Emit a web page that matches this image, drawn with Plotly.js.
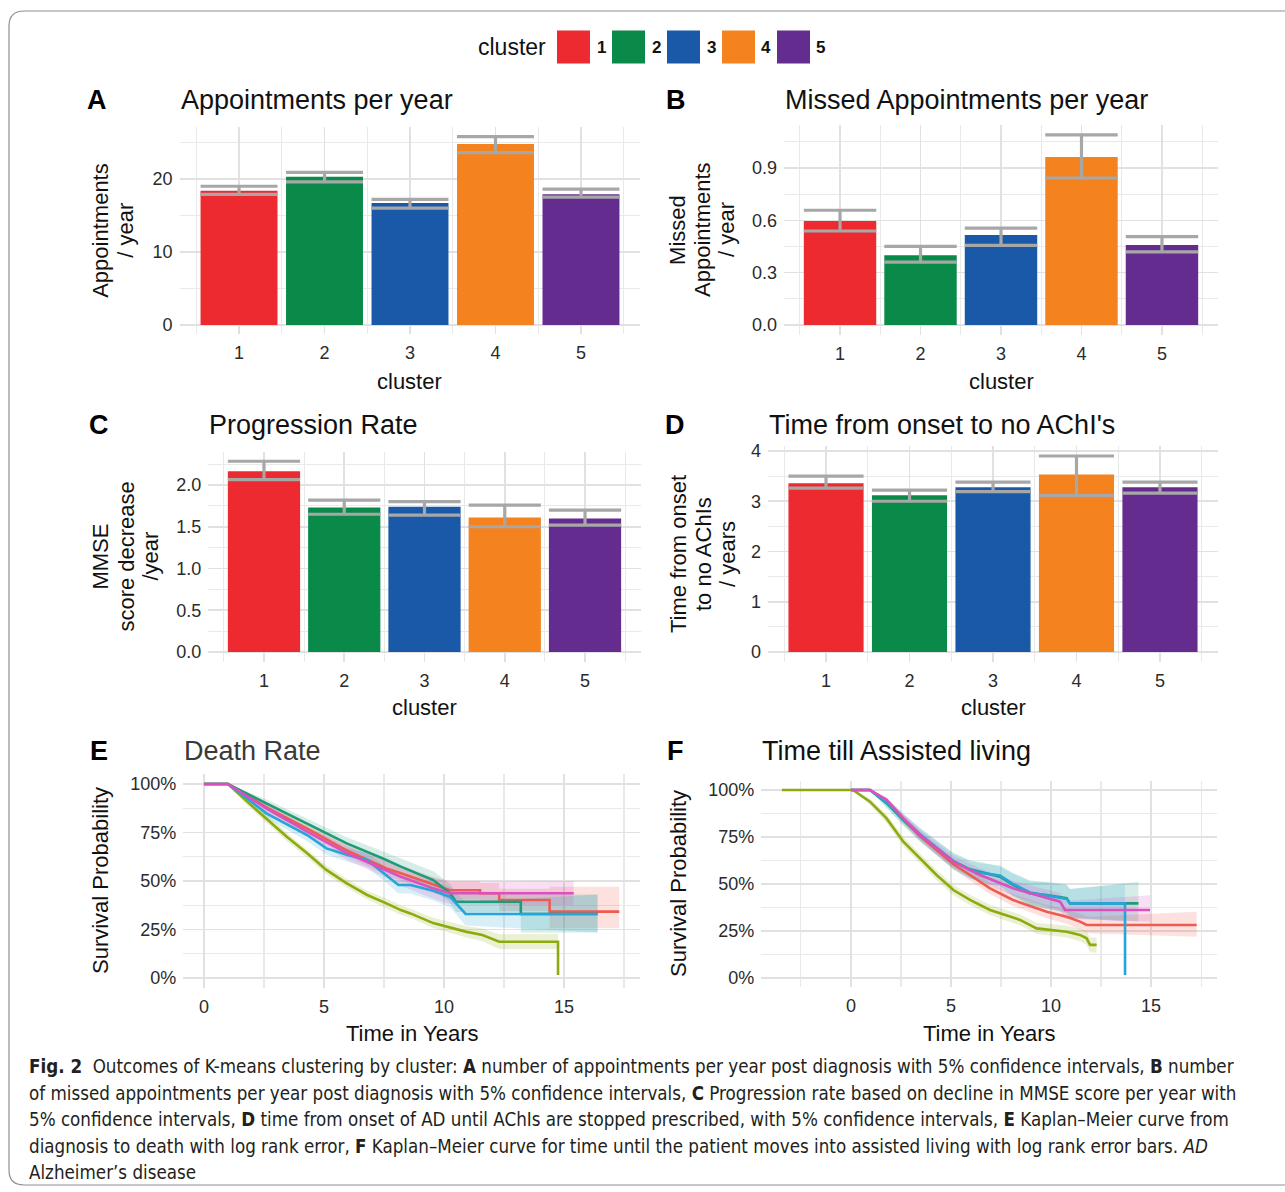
<!DOCTYPE html>
<html><head><meta charset="utf-8">
<script src="https://cdn.plot.ly/plotly-3.0.1.min.js"></script>
<style>html,body{margin:0;padding:0;background:#fff;}#chart{width:1285px;height:1192px;}</style>
</head><body><div id="chart"></div>
<script>
// ---------------- DATA ----------------
const clusters = [1, 2, 3, 4, 5];
const clusterLabels = ['1', '2', '3', '4', '5'];
const clusterColors = ['#EC2A30', '#0A8A48', '#1A59A7', '#F4821F', '#652C90'];
const kmColors = ['#EE5B50', '#8DAA0E', '#1E9B78', '#27A4D8', '#D950BE'];

// A: appointments per year
const apptMean = [18.4, 20.3, 16.7, 24.8, 17.9];
const apptLow  = [17.9, 19.6, 16.0, 23.6, 17.5];
const apptHigh = [19.0, 20.9, 17.2, 25.8, 18.6];
// B: missed appointments per year
const missedMean = [0.597, 0.400, 0.516, 0.964, 0.459];
const missedLow  = [0.539, 0.361, 0.457, 0.843, 0.419];
const missedHigh = [0.658, 0.451, 0.556, 1.090, 0.507];
// C: progression rate
const progMean = [2.164, 1.73, 1.74, 1.61, 1.60];
const progLow  = [2.064, 1.65, 1.64, 1.50, 1.52];
const progHigh = [2.285, 1.82, 1.80, 1.76, 1.70];
// D: time from onset to no AChIs
const achiMean = [3.36, 3.12, 3.28, 3.53, 3.28];
const achiLow  = [3.26, 3.00, 3.19, 3.11, 3.16];
const achiHigh = [3.50, 3.22, 3.38, 3.90, 3.38];

// E: Death rate (Kaplan-Meier)
const deathT1  = [0, 1.0, 2.6, 4.3, 5.9, 7.6, 8.2, 9.55, 10.25, 11.5, 11.5, 12.3, 12.3, 14.4, 14.4, 17.3];
const deathS1  = [1, 1, 0.88, 0.77, 0.66, 0.565, 0.54, 0.48, 0.452, 0.452, 0.437, 0.437, 0.402, 0.402, 0.342, 0.342];
const deathLo1 = [1, 1, 0.86, 0.745, 0.63, 0.53, 0.50, 0.44, 0.405, 0.405, 0.385, 0.385, 0.345, 0.345, 0.256, 0.256];
const deathHi1 = [1, 1, 0.90, 0.795, 0.69, 0.60, 0.58, 0.52, 0.50, 0.50, 0.49, 0.49, 0.46, 0.46, 0.47, 0.47];

const deathT2  = [0, 1.0, 1.8, 2.6, 3.45, 4.3, 5.1, 5.95, 6.8, 7.6, 8.2, 8.6, 9.55, 10.9, 11.6, 12.3, 14.75, 14.75];
const deathS2  = [1, 1, 0.909, 0.823, 0.728, 0.643, 0.557, 0.488, 0.428, 0.385, 0.35, 0.333, 0.283, 0.239, 0.222, 0.187, 0.187, 0.015];
const deathLo2 = [1, 1, 0.89, 0.80, 0.705, 0.62, 0.535, 0.465, 0.405, 0.36, 0.325, 0.31, 0.258, 0.21, 0.19, 0.15, 0.15, 0.015];
const deathHi2 = [1, 1, 0.925, 0.845, 0.75, 0.665, 0.58, 0.51, 0.45, 0.41, 0.375, 0.357, 0.31, 0.268, 0.255, 0.225, 0.225, 0.015];

const deathT3  = [0, 1.0, 2.6, 4.3, 5.95, 7.6, 8.2, 9.55, 10.25, 10.5, 13.2, 13.2, 16.4];
const deathS3  = [1, 1, 0.90, 0.797, 0.694, 0.608, 0.574, 0.505, 0.437, 0.393, 0.393, 0.33, 0.33];
const deathLo3 = [1, 1, 0.88, 0.77, 0.66, 0.57, 0.53, 0.46, 0.39, 0.34, 0.34, 0.235, 0.235];
const deathHi3 = [1, 1, 0.92, 0.82, 0.725, 0.645, 0.615, 0.55, 0.485, 0.445, 0.445, 0.43, 0.43];

const deathT4  = [0, 1.0, 2.6, 4.3, 5.1, 5.95, 6.8, 7.6, 8.1, 8.6, 9.55, 10.25, 10.9, 16.4];
const deathS4  = [1, 1, 0.849, 0.737, 0.668, 0.635, 0.608, 0.531, 0.479, 0.479, 0.45, 0.419, 0.33, 0.33];
const deathLo4 = [1, 1, 0.825, 0.705, 0.635, 0.60, 0.57, 0.49, 0.435, 0.435, 0.40, 0.365, 0.27, 0.235];
const deathHi4 = [1, 1, 0.87, 0.765, 0.70, 0.67, 0.645, 0.57, 0.52, 0.52, 0.495, 0.47, 0.39, 0.43];

const deathT5  = [0, 1.0, 2.6, 4.3, 5.95, 7.6, 8.2, 9.55, 10.25, 15.4];
const deathS5  = [1, 1, 0.874, 0.754, 0.644, 0.557, 0.522, 0.462, 0.437, 0.437];
const deathLo5 = [1, 1, 0.85, 0.725, 0.61, 0.515, 0.475, 0.41, 0.38, 0.375];
const deathHi5 = [1, 1, 0.895, 0.78, 0.68, 0.60, 0.565, 0.515, 0.495, 0.50];

// F: Time till assisted living (Kaplan-Meier)
const assistT1  = [0, 0.95, 1.78, 2.62, 3.45, 4.28, 5.12, 5.95, 6.45, 6.95, 8.1, 9.78, 10.78, 11.45, 11.78, 17.28];
const assistS1  = [1, 1, 0.945, 0.845, 0.755, 0.68, 0.605, 0.548, 0.512, 0.477, 0.415, 0.353, 0.326, 0.30, 0.282, 0.282];
const assistLo1 = [1, 1, 0.93, 0.825, 0.73, 0.655, 0.578, 0.52, 0.483, 0.447, 0.383, 0.318, 0.288, 0.258, 0.238, 0.22];
const assistHi1 = [1, 1, 0.96, 0.865, 0.78, 0.705, 0.632, 0.576, 0.541, 0.507, 0.447, 0.388, 0.364, 0.342, 0.326, 0.353];

const assistT2  = [-3.45, 0.1, 0.95, 1.78, 2.62, 3.45, 4.28, 5.12, 5.95, 6.95, 7.45, 8.45, 9.28, 10.78, 11.45, 11.78, 11.95, 12.28];
const assistS2  = [1, 1, 0.938, 0.849, 0.725, 0.637, 0.548, 0.468, 0.415, 0.362, 0.344, 0.309, 0.264, 0.246, 0.229, 0.211, 0.176, 0.176];
const assistLo2 = [1, 1, 0.92, 0.825, 0.70, 0.61, 0.52, 0.44, 0.387, 0.335, 0.316, 0.28, 0.235, 0.215, 0.195, 0.175, 0.135, 0.135];
const assistHi2 = [1, 1, 0.955, 0.87, 0.75, 0.662, 0.575, 0.495, 0.443, 0.39, 0.372, 0.338, 0.294, 0.278, 0.262, 0.247, 0.215, 0.215];

const assistT3  = [0, 0.95, 1.78, 2.62, 3.45, 4.28, 5.12, 5.95, 6.45, 7.45, 8.1, 8.95, 9.78, 10.78, 10.95, 14.37];
const assistS3  = [1, 1, 0.93, 0.84, 0.76, 0.69, 0.622, 0.578, 0.566, 0.539, 0.495, 0.45, 0.441, 0.424, 0.397, 0.397];
const assistLo3 = [1, 1, 0.905, 0.81, 0.725, 0.65, 0.578, 0.53, 0.515, 0.485, 0.435, 0.385, 0.37, 0.35, 0.32, 0.30];
const assistHi3 = [1, 1, 0.955, 0.87, 0.795, 0.73, 0.666, 0.626, 0.617, 0.593, 0.555, 0.515, 0.512, 0.498, 0.474, 0.51];

const assistT4  = [0, 0.95, 1.78, 2.62, 3.45, 4.28, 5.12, 5.95, 6.45, 7.45, 8.1, 8.95, 9.78, 10.78, 10.95, 13.7, 13.7];
const assistS4  = [1, 1, 0.935, 0.845, 0.765, 0.692, 0.62, 0.575, 0.56, 0.545, 0.50, 0.455, 0.44, 0.42, 0.397, 0.397, 0.016];
const assistLo4 = [1, 1, 0.91, 0.815, 0.73, 0.655, 0.578, 0.528, 0.51, 0.49, 0.44, 0.39, 0.37, 0.345, 0.32, 0.30, 0.016];
const assistHi4 = [1, 1, 0.958, 0.875, 0.80, 0.73, 0.662, 0.622, 0.61, 0.60, 0.56, 0.52, 0.51, 0.495, 0.474, 0.50, 0.016];

const assistT5  = [0, 0.95, 1.78, 2.62, 3.45, 4.28, 5.12, 5.95, 6.45, 8.1, 9.78, 10.45, 10.7, 14.95];
const assistS5  = [1, 1, 0.947, 0.849, 0.761, 0.69, 0.619, 0.574, 0.548, 0.477, 0.424, 0.406, 0.362, 0.362];
const assistLo5 = [1, 1, 0.93, 0.825, 0.735, 0.66, 0.588, 0.54, 0.512, 0.437, 0.38, 0.36, 0.315, 0.30];
const assistHi5 = [1, 1, 0.962, 0.872, 0.787, 0.72, 0.65, 0.608, 0.584, 0.517, 0.468, 0.452, 0.41, 0.44];

const panelTitles = ['Appointments per year', 'Missed Appointments per year', 'Progression Rate',
                     "Time from onset to no AChI's", 'Death Rate', 'Time till Assisted living'];
const panelLetters = ['A', 'B', 'C', 'D', 'E', 'F'];
const yTitles = [['Appointments', '/ year'], ['Missed', 'Appointments', '/ year'],
                 ['MMSE', 'score decrease', '/year'], ['Time from onset', 'to no AChIs', '/ years'],
                 ['Survival Probability'], ['Survival Probability']];
const xTitles = ['cluster', 'cluster', 'cluster', 'cluster', 'Time in Years', 'Time in Years'];
const legendTitle = 'cluster';
const captionLines = [
  '<b>Fig. 2</b>  Outcomes of K-means clustering by cluster: <b>A</b> number of appointments per year post diagnosis with 5% confidence intervals, <b>B</b> number',
  'of missed appointments per year post diagnosis with 5% confidence intervals, <b>C</b> Progression rate based on decline in MMSE score per year with',
  '5% confidence intervals, <b>D</b> time from onset of AD until AChIs are stopped prescribed, with 5% confidence intervals, <b>E</b> Kaplan–Meier curve from',
  'diagnosis to death with log rank error, <b>F</b> Kaplan–Meier curve for time until the patient moves into assisted living with log rank error bars. <i>AD</i>',
  'Alzheimer’s disease'
];

// ---------------- LAYOUT HELPERS ----------------
const W = 1285, H = 1192;
const PX = p => p / W;
const PY = p => 1 - p / H;
const FONT = '"Liberation Sans", Arial, Helvetica, sans-serif';

// plot areas in px: [left, right, top, bottom]
const boxes = [
  [179.6, 640.4, 127.2, 334.4],
  [784.1, 1217.9, 125.4, 334.5],
  [208.2, 640.8, 451.7, 661.5],
  [768.0, 1218.0, 446.2, 661.8],
  [183.2, 640.0, 774.3, 987.7],
  [761.2, 1217.4, 780.6, 987.4]
];

const gridMajor = '#E1E1E1', gridMinor = '#E9E9E9';
function axisBase(i, isX) {
  const b = boxes[i];
  return {
    domain: isX ? [PX(b[0]), PX(b[1])] : [PY(b[3]), PY(b[2])],
    showline: false, zeroline: false, ticks: '', showgrid: true,
    gridcolor: gridMajor, gridwidth: 1.6,
    tickfont: {family: FONT, size: 18, color: '#2b2b2b'},
    ticklabelstandoff: 6,
    fixedrange: true,
    anchor: (isX ? 'y' : 'x') + (i === 0 ? '' : (i + 1))
  };
}

const layout = {
  width: W, height: H, margin: {l: 0, r: 0, t: 0, b: 0},
  paper_bgcolor: '#fff', plot_bgcolor: 'rgba(0,0,0,0)',
  showlegend: false, annotations: [], shapes: [], font: {family: FONT}
};

const barSets = [
  [apptMean, apptLow, apptHigh, 10, 5, ''],
  [missedMean, missedLow, missedHigh, 0.3, 0.15, '.1f'],
  [progMean, progLow, progHigh, 0.5, 0.25, '.1f'],
  [achiMean, achiLow, achiHigh, 1, 0.5, '']
];

const traces = [];
const xr = [0.305, 5.695];
barSets.forEach((set, i) => {
  const [m, lo, hi, dt, mdt, fmt] = set;
  const sfx = i === 0 ? '' : String(i + 1);
  const maxV = Math.max(...hi);
  const yr = [-0.05 * maxV, 1.05 * maxV];
  const xa = axisBase(i, true);
  Object.assign(xa, {range: xr, tickmode: 'array', tickvals: clusters, ticktext: clusterLabels,
    minor: {showgrid: true, dtick: 0.5, tick0: 0, gridcolor: gridMinor, gridwidth: 1.1}});
  const ya = axisBase(i, false);
  Object.assign(ya, {range: yr, dtick: dt, tick0: 0, tickformat: fmt,
    minor: {showgrid: true, dtick: mdt, tick0: 0, gridcolor: gridMinor, gridwidth: 1.1}});
  layout['xaxis' + sfx] = xa;
  layout['yaxis' + sfx] = ya;
  const pxPerUnit = (boxes[i][1] - boxes[i][0]) / (xr[1] - xr[0]);
  traces.push({
    type: 'bar', x: clusters, y: m, width: 0.9, xaxis: 'x' + sfx, yaxis: 'y' + sfx,
    marker: {color: clusterColors, line: {width: 0}},
    error_y: {type: 'data', symmetric: false,
      array: hi.map((h, k) => h - m[k]), arrayminus: m.map((v, k) => v - lo[k]),
      color: '#A7A7A7', thickness: 3.2, width: 0.45 * pxPerUnit},
    hoverinfo: 'skip'
  });
});

function rgba(hex, a) {
  const n = parseInt(hex.slice(1), 16);
  return `rgba(${n >> 16},${(n >> 8) & 255},${n & 255},${a})`;
}

const kmSets = [
  [[deathT1, deathS1, deathLo1, deathHi1], [deathT2, deathS2, deathLo2, deathHi2],
   [deathT3, deathS3, deathLo3, deathHi3], [deathT4, deathS4, deathLo4, deathHi4],
   [deathT5, deathS5, deathLo5, deathHi5]],
  [[assistT1, assistS1, assistLo1, assistHi1], [assistT2, assistS2, assistLo2, assistHi2],
   [assistT3, assistS3, assistLo3, assistHi3], [assistT4, assistS4, assistLo4, assistHi4],
   [assistT5, assistS5, assistLo5, assistHi5]]
];

kmSets.forEach((series, j) => {
  const i = 4 + j;
  const sfx = String(i + 1);
  let tmin = Infinity, tmax = -Infinity;
  series.forEach(s => { tmin = Math.min(tmin, ...s[0]); tmax = Math.max(tmax, ...s[0]); });
  const span = tmax - tmin;
  const xa = axisBase(i, true);
  Object.assign(xa, {range: [tmin - 0.05 * span, tmax + 0.05 * span], dtick: 5, tick0: 0,
    minor: {showgrid: true, dtick: 2.5, tick0: 0, gridcolor: gridMinor, gridwidth: 1.1}});
  const ya = axisBase(i, false);
  Object.assign(ya, {range: [-0.05, 1.05], dtick: 0.25, tick0: 0, tickformat: '.0%',
    minor: {showgrid: true, dtick: 0.125, tick0: 0, gridcolor: gridMinor, gridwidth: 1.1}});
  layout['xaxis' + sfx] = xa;
  layout['yaxis' + sfx] = ya;
  series.forEach((s, k) => {
    const [t, , lo, hi] = s;
    traces.push({
      type: 'scatter', mode: 'lines', xaxis: 'x' + sfx, yaxis: 'y' + sfx,
      x: t.concat(t.slice().reverse()), y: hi.concat(lo.slice().reverse()),
      fill: 'toself', fillcolor: rgba(kmColors[k], 0.18), line: {width: 0}, hoverinfo: 'skip'
    });
  });
  series.forEach((s, k) => {
    traces.push({
      type: 'scatter', mode: 'lines', xaxis: 'x' + sfx, yaxis: 'y' + sfx,
      x: s[0], y: s[1], line: {color: kmColors[k], width: 2.6}, hoverinfo: 'skip'
    });
  });
});

// ---------------- TEXT ----------------
const ann = layout.annotations;
function txt(text, x, y, size, opts) {
  ann.push(Object.assign({text, x: PX(x), y: PY(y), xref: 'paper', yref: 'paper', showarrow: false,
    xanchor: 'center', yanchor: 'middle', font: {family: FONT, size, color: '#111'}}, opts || {}));
}

const letterPos = [[97, 100], [676, 100], [99, 425], [675, 425], [99, 751], [675, 751]];
const titleY = [100, 100, 425, 425, 751, 751];
panelLetters.forEach((L, i) => {
  txt('<b>' + L + '</b>', letterPos[i][0], letterPos[i][1], 27, {font: {family: FONT, size: 27, color: '#000'}});
  txt(panelTitles[i], boxes[i][0] - 1, titleY[i], 27,
      {xanchor: 'left', font: {family: FONT, size: 27, color: i === 4 ? '#3a3a3a' : '#111'}});
});

const xTitleY = [381, 381, 707, 707, 1033, 1033];
xTitles.forEach((t, i) => txt(t, (boxes[i][0] + boxes[i][1]) / 2, xTitleY[i], 22));

const yTitleX = [[101, 126], [678, 703, 727], [101, 127, 151], [678, 703, 727], [101], [678]];
yTitles.forEach((lines, i) => {
  const cy = (boxes[i][2] + boxes[i][3]) / 2;
  lines.forEach((ln, k) => txt(ln, yTitleX[i][k], cy, 22, {textangle: -90}));
});

// legend
const legX0 = 557, legStep = 55, legSq = 33, legY = 47;
txt(legendTitle, 548, legY, 23, {xanchor: 'right'});
clusters.forEach((c, k) => {
  const x0 = legX0 + k * legStep;
  layout.shapes.push({type: 'rect', xref: 'paper', yref: 'paper',
    x0: PX(x0), x1: PX(x0 + legSq), y0: PY(legY + legSq / 2), y1: PY(legY - legSq / 2),
    fillcolor: clusterColors[k], line: {width: 0}});
  txt('<b>' + clusterLabels[k] + '</b>', x0 + legSq + 11, legY, 17);
});

// outer rounded frame
(function () {
  const l = 9, t = 11, r = 1300, b = 1185, rad = 15;
  const rx = rad / W, ry = rad / H;
  const L = PX(l), T = PY(t), R = PX(r), B = PY(b);
  const path = `M ${L + rx},${T} L ${R - rx},${T} Q ${R},${T} ${R},${T - ry} L ${R},${B + ry} Q ${R},${B} ${R - rx},${B} ` +
               `L ${L + rx},${B} Q ${L},${B} ${L},${B + ry} L ${L},${T - ry} Q ${L},${T} ${L + rx},${T} Z`;
  layout.shapes.push({type: 'path', xref: 'paper', yref: 'paper', path, line: {color: '#8f8f8f', width: 1.2}, layer: 'below'});
})();

// caption font choice (condensed if available), sized to the reference line width
(function () {
  const ctx = document.createElement('canvas').getContext('2d');
  const probe = 'The quick brown fox jumps 0123456789';
  ctx.font = '20px monospace';
  const mono = ctx.measureText(probe).width;
  let fam = 'Liberation Sans';
  for (const f of ['Liberation Sans Narrow', 'DejaVu Sans Condensed']) {
    ctx.font = `20px "${f}", monospace`;
    if (Math.abs(ctx.measureText(probe).width - mono) > 0.5) { fam = f; break; }
  }
  const plain = captionLines[0].replace(/<[^>]+>/g, '');
  ctx.font = `20px "${fam}"`;
  const w = ctx.measureText(plain).width;
  let size = 20 * 1194 / w;
  size = Math.max(14, Math.min(22, size));
  const capY = [1066, 1093, 1119, 1146, 1172];
  captionLines.forEach((ln, k) => txt(ln, 27, capY[k], size,
    {xanchor: 'left', font: {family: `"${fam}", "Liberation Sans", sans-serif`, size, color: '#231f20'}}));
})();

Plotly.newPlot('chart', traces, layout, {displayModeBar: false, staticPlot: true});
</script>
</body></html>
